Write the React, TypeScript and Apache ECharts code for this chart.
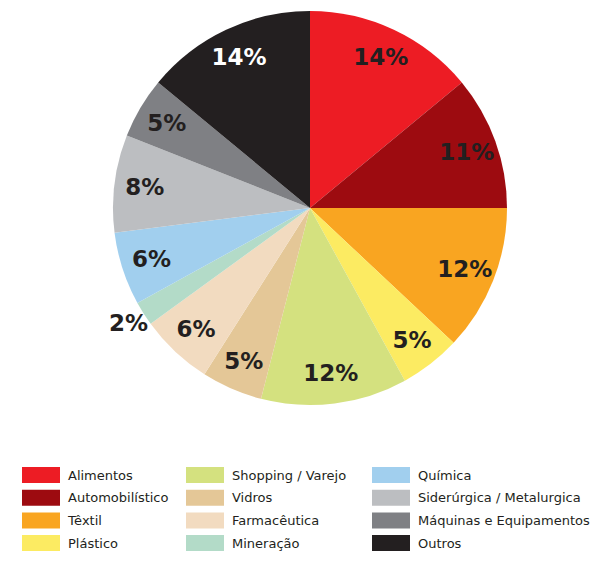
import React, { useEffect, useRef } from "react";
import * as echarts from "echarts";

const categories = [
  "Alimentos",
  "Automobilístico",
  "Têxtil",
  "Plástico",
  "Shopping / Varejo",
  "Vidros",
  "Farmacêutica",
  "Mineração",
  "Química",
  "Siderúrgica / Metalurgica",
  "Máquinas e Equipamentos",
  "Outros",
];
const values = [14, 11, 12, 5, 12, 5, 6, 2, 6, 8, 5, 14];
const colors = [
  "#ED1C24",
  "#9D0B10",
  "#F9A521",
  "#FCEB62",
  "#D4E17F",
  "#E4C797",
  "#F2DBC0",
  "#B3DBC8",
  "#A1CFEE",
  "#BCBEC1",
  "#7F8084",
  "#231F20",
];
const labelColors = [
  "#231F20", "#231F20", "#231F20", "#231F20", "#231F20", "#231F20",
  "#231F20", "#231F20", "#231F20", "#231F20", "#231F20", "#FFFFFF",
];
const outsideLabels = ["Mineração"];

const FONT = "DejaVu Sans";

export default function App() {
  const ref = useRef<HTMLDivElement>(null);
  useEffect(() => {
    if (!ref.current) return;
    const chart = echarts.init(ref.current, undefined, { renderer: "svg" });
    const center = [310, 208];
    const R = 197;
    const labelStyle = (i: number) => ({
      color: labelColors[i],
      fontFamily: FONT,
      fontWeight: "bold" as const,
      fontSize: 23,
    });
    const legendCol = (names: string[], left: number) => ({
      orient: "vertical" as const,
      left,
      top: 462,
      itemWidth: 38,
      itemHeight: 16,
      itemGap: 6.7,
      icon: "rect",
      selectedMode: false,
      data: names,
      textStyle: {
        fontFamily: FONT,
        fontSize: 13,
        color: "#231F20",
        padding: [0, 0, 0, 3],
        lineHeight: 16,
      },
    });
    chart.setOption({
      animation: false,
      legend: [
        legendCol(categories.slice(0, 4), 17),
        legendCol(categories.slice(4, 8), 181),
        legendCol(categories.slice(8, 12), 367),
      ],
      series: [
        {
          type: "pie",
          center,
          radius: [0, R],
          startAngle: 90,
          clockwise: true,
          label: { show: false },
          labelLine: { show: false },
          emphasis: { disabled: true },
          data: categories.map((name, i) => ({
            name,
            value: values[i],
            itemStyle: { color: colors[i] },
          })),
        },
        {
          type: "pie",
          center,
          radius: [130, R],
          startAngle: 90,
          clockwise: true,
          silent: true,
          emphasis: { disabled: true },
          labelLine: { show: false },
          itemStyle: { color: "rgba(0,0,0,0)" },
          data: categories.map((name, i) => ({
            name,
            value: values[i],
            label: {
              show: !outsideLabels.includes(name),
              position: "inside",
              formatter: "{c}%",
              ...labelStyle(i),
            },
          })),
        },
        {
          type: "pie",
          center,
          radius: [190, 234],
          startAngle: 90,
          clockwise: true,
          silent: true,
          emphasis: { disabled: true },
          labelLine: { show: false },
          itemStyle: { color: "rgba(0,0,0,0)" },
          data: categories.map((name, i) => ({
            name,
            value: values[i],
            label: {
              show: outsideLabels.includes(name),
              position: "inside",
              formatter: "{c}%",
              ...labelStyle(i),
            },
          })),
        },
      ],
    });
    return () => chart.dispose();
  }, []);
  return (
    <div
      ref={ref}
      style={{ position: "fixed", left: 0, top: 0, width: 598, height: 561, background: "#fff" }}
    />
  );
}
